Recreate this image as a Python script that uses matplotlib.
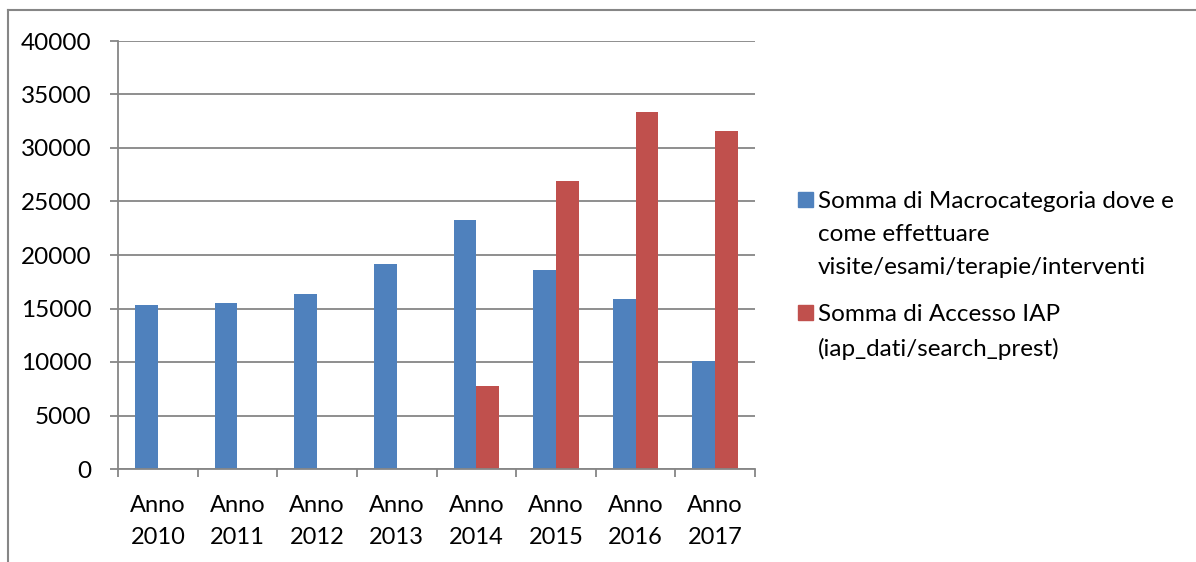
#!/usr/bin/env python3
"""Bar chart: Macrocategoria vs Accesso IAP per anno."""

import matplotlib
matplotlib.use("Agg")
import matplotlib.pyplot as plt
import numpy as np
from matplotlib.patches import Rectangle
from matplotlib.lines import Line2D

years = ["Anno\n2010", "Anno\n2011", "Anno\n2012", "Anno\n2013",
         "Anno\n2014", "Anno\n2015", "Anno\n2016", "Anno\n2017"]
macro = [15360, 15560, 16400, 19180, 23230, 18580, 15870, 10110]
iap = [0, 0, 0, 0, 7730, 26880, 33410, 31570]
series_labels = [
    "Somma di Macrocategoria dove e\ncome effettuare\nvisite/esami/terapie/interventi",
    "Somma di Accesso IAP\n(iap_dati/search_prest)",
]
yticks = [0, 5000, 10000, 15000, 20000, 25000, 30000, 35000, 40000]

BLUE = "#4F81BD"
RED = "#C0504D"
GRID = "#868686"

plt.rcParams["font.family"] = ["Lato", "DejaVu Sans"]

W, H = 1196, 562
fig = plt.figure(figsize=(W / 100, H / 100), dpi=100)

# outer chart border
fig.add_artist(Line2D([8 / W, 1.0], [1 - 10 / H, 1 - 10 / H], transform=fig.transFigure,
                      color=GRID, lw=1.5))
fig.add_artist(Line2D([8 / W, 8 / W], [1 - 10 / H, 0.0], transform=fig.transFigure,
                      color=GRID, lw=1.5))

ax = fig.add_axes([118 / W, 1 - 469 / H, (755 - 118) / W, (469 - 41) / H])
x = np.arange(len(years))
width = 0.285
ax.bar(x - width / 2, macro, width, color=BLUE, zorder=3)
ax.bar(x + width / 2, [v if v > 0 else np.nan for v in iap], width, color=RED, zorder=3)

ax.set_xlim(-0.5, len(years) - 0.5)
ax.set_ylim(0, 40000)
ax.set_yticks(yticks)
ax.set_yticklabels([str(v) for v in yticks], fontsize=17.5)
ax.set_xticks(x)
ax.set_xticklabels(years, fontsize=17, linespacing=1.6)
ax.set_xticks(np.arange(-0.5, len(years)), minor=True)
ax.tick_params(axis="x", which="major", length=0, pad=19)
ax.tick_params(axis="x", which="minor", length=6, width=1.3, color=GRID)
ax.tick_params(axis="y", length=6, width=1.3, color=GRID, pad=13)
ax.grid(axis="y", color=GRID, lw=1.3, zorder=0)
for side in ("top", "right"):
    ax.spines[side].set_visible(False)
for side in ("left", "bottom"):
    ax.spines[side].set_color(GRID)
    ax.spines[side].set_linewidth(1.3)
    ax.spines[side].set_zorder(4)

# legend drawn by hand so the square sits on the first line
legend_y = [200, 313]
for lab, col, ly in zip(series_labels, [BLUE, RED], legend_y):
    fig.add_artist(Rectangle((798 / W, 1 - (ly + 7) / H), 15 / W, 15 / H,
                             transform=fig.transFigure, color=col))
    fig.text(818 / W, 1 - (ly - 9) / H, lab, fontsize=17.5, va="top", ha="left",
             linespacing=1.7)

fig.savefig("out.png", dpi=100)
